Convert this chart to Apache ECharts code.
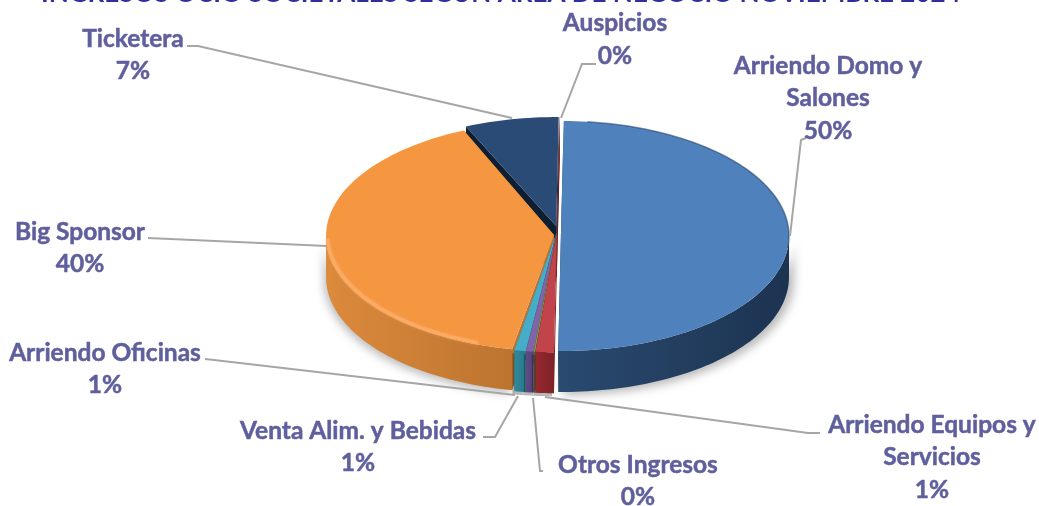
<!DOCTYPE html>
<html>
<head>
<meta charset="utf-8">
<style>
  html, body { margin: 0; padding: 0; background: #fff; }
  #chart { width: 1039px; height: 506px; }
</style>
<script src="https://cdn.jsdelivr.net/npm/echarts@6/dist/echarts.min.js"></script>
</head>
<body>
<div id="chart"></div>
<script>
const titleText = "INGRESOS OCIO SOCIETALES SEGÚN ÁREA DE NEGOCIO NOVIEMBRE 2024";
const categories = ["Arriendo Domo y Salones", "Arriendo Equipos y Servicios", "Otros Ingresos", "Venta Alim. y Bebidas", "Arriendo Oficinas", "Big Sponsor", "Ticketera", "Auspicios"];
const shares = [50.0, 1.3, 0.1, 0.55, 0.8, 40.58, 6.65, 0.02];
const percentLabels = ["50%", "1%", "0%", "1%", "1%", "40%", "7%", "0%"];

// look of each slice, same order as categories
const topColors = ["#4f81bd", "#c0444a", "#7a9c46", "#8064a8", "#45adc8", "#f59641", "#2a4b75", "#8c2a2a"];
const wallColors = [["#2a4a70", "#1c3350"], ["#96282f", "#7e2228"], ["#5c7433", "#4c602b"], ["#5f4a88", "#54427a"], ["#2f8a9d", "#287888"], ["#dc8a3c", "#bc742f"], ["#0f1f33", "#0f1f33"], ["#6a1f1f", "#6a1f1f"]];
const drawOrder = [6, 7, 5, 0, 4, 3, 2, 1];
const sliceExplode = [4, 4, 4, 4, 4, 3, 4, 4];
// perspective: the true centre sits behind the middle of the ellipse
const apexLift = [4, 4, 4, 4, 4, 1, 6, 4];

const centerX = 557, centerY = 236, radiusX = 228, radiusY = 115, depth = 41;
const startAngle = 0.7;
const labelColor = "#5f5f9e";

// label lines and leader lines, laid out by hand
const labelLayout = [
  { x: 828, y: 66, lines: ["Arriendo Domo y", "Salones"], leader: [[806, 138], [801, 140], [790, 236]] },
  { x: 932, y: 425, lines: ["Arriendo Equipos y", "Servicios"], leader: [[545, 397], [808, 433], [820, 433]] },
  { x: 638, y: 465, lines: ["Otros Ingresos"], leader: [[543, 471], [540, 471], [533, 398]] },
  { x: 358, y: 431, lines: ["Venta Alim. y Bebidas"], leader: [[483, 437], [495, 437], [518, 396]] },
  { x: 105, y: 353, lines: ["Arriendo Oficinas"], leader: [[205, 359], [214, 360], [515, 395]] },
  { x: 80, y: 232, lines: ["Big Sponsor"], leader: [[148, 238], [327, 246]] },
  { x: 133, y: 39, lines: ["Ticketera"], leader: [[187, 46], [198, 46], [512, 118]] },
  { x: 615, y: 23.5, lines: ["Auspicios"], leader: [[596, 64], [582, 64], [561, 118]] }
];
const lineStep = 32.5;

const total = shares.reduce(function (a, b) { return a + b; }, 0);

function rimPoint(cx, cy, deg) {
  const t = deg * Math.PI / 180;
  return [cx + radiusX * Math.sin(t), cy - radiusY * Math.cos(t)];
}

function arcPoints(cx, cy, from, to) {
  const pts = [];
  const steps = Math.max(2, Math.ceil(Math.abs(to - from) / 1.5));
  for (let i = 0; i <= steps; i++) {
    pts.push(rimPoint(cx, cy, from + (to - from) * i / steps));
  }
  return pts;
}

function sliceAngles(index) {
  let sum = 0;
  for (let i = 0; i < index; i++) sum += shares[i];
  const from = startAngle + sum / total * 360;
  return [from, from + shares[index] / total * 360];
}

function drop(points) {
  return points.map(function (p) { return [p[0], p[1] + depth]; });
}

function renderSlice(params, api) {
  const i = params.dataIndex;
  const a = sliceAngles(i);
  const mid = (a[0] + a[1]) / 2 * Math.PI / 180;
  const back = Math.cos(mid);
  const cx = centerX + sliceExplode[i] * Math.sin(mid);
  const cy = centerY - sliceExplode[i] * (back > 0 ? 1 : 0.3) * back;
  const apex = [cx, cy - apexLift[i]];
  const z = drawOrder.indexOf(i) * 10 + 10;
  const children = [];
  const rimA = rimPoint(cx, cy, a[0]);
  const rimB = rimPoint(cx, cy, a[1]);

  // the two cut faces
  [rimA, rimB].forEach(function (rim) {
    children.push({
      type: "polygon", z2: z,
      shape: { points: [apex, rim, [rim[0], rim[1] + depth], [apex[0], apex[1] + depth]] },
      style: { fill: wallColors[i][1] }
    });
  });

  // outer wall, only the front half of the rim shows
  const wallFrom = Math.max(a[0], 90);
  const wallTo = Math.min(a[1], 270);
  if (wallTo > wallFrom) {
    const upper = arcPoints(cx, cy, wallFrom, wallTo);
    children.push({
      type: "polygon", z2: z + 1,
      shape: { points: upper.concat(drop(upper).reverse()) },
      style: {
        fill: new echarts.graphic.LinearGradient(0, 0, 1, 0, [
          { offset: 0, color: wallColors[i][0] },
          { offset: 1, color: wallColors[i][1] }
        ]),
        shadowBlur: i === 0 || i === 5 ? 10 : 0,
        shadowColor: "rgba(0,0,0,0.28)",
        shadowOffsetX: i === 0 ? 5 : -2,
        shadowOffsetY: 3
      }
    });
  }

  // top face
  const rim = arcPoints(cx, cy, a[0], a[1]);
  children.push({
    type: "polygon", z2: z + 2,
    shape: { points: [apex].concat(rim) },
    style: { fill: topColors[i] }
  });

  // bevel along the rim of the two big slices
  if (i === 5) {
    children.push({
      type: "polyline", z2: z + 3,
      shape: { points: arcPoints(cx + 1.5, cy - 1.5, 200, 268) },
      style: { fill: null, stroke: "#fbab64", lineWidth: 3, shadowBlur: 3, shadowColor: "#fbab64" }
    });
  }
  if (i === 0) {
    children.push({
      type: "polyline", z2: z + 3,
      shape: { points: arcPoints(cx, cy, a[0] + 6, 96) },
      style: { fill: null, stroke: "rgba(34,62,98,0.55)", lineWidth: 1.5 }
    });
  }

  // leader line and label text
  const lay = labelLayout[i];
  children.push({
    type: "polyline", z2: 200,
    shape: { points: lay.leader },
    style: { fill: null, stroke: "#a6a6a6", lineWidth: 2 }
  });
  lay.lines.concat(percentLabels[i]).forEach(function (line, n) {
    children.push({
      type: "text", z2: 201, x: lay.x, y: lay.y + n * lineStep,
      style: {
        text: line, fill: labelColor, stroke: labelColor, lineWidth: 0.5,
        align: "center", verticalAlign: "middle",
        font: "bold 24.5px Lato, 'Open Sans', sans-serif"
      }
    });
  });

  return { type: "group", children: children };
}

const myChart = echarts.init(document.getElementById("chart"));
myChart.setOption({
  animation: false,
  backgroundColor: "#ffffff",
  graphic: [{
    type: "text", left: 41, top: -19,
    style: { text: titleText, fill: "#2e2e9e", font: "bold 26px Lato, sans-serif" }
  }],
  series: [{
    type: "custom",
    coordinateSystem: "none",
    renderItem: renderSlice,
    data: shares.map(function (v, i) { return { name: categories[i], value: [v] }; })
  }]
});
</script>
</body>
</html>
